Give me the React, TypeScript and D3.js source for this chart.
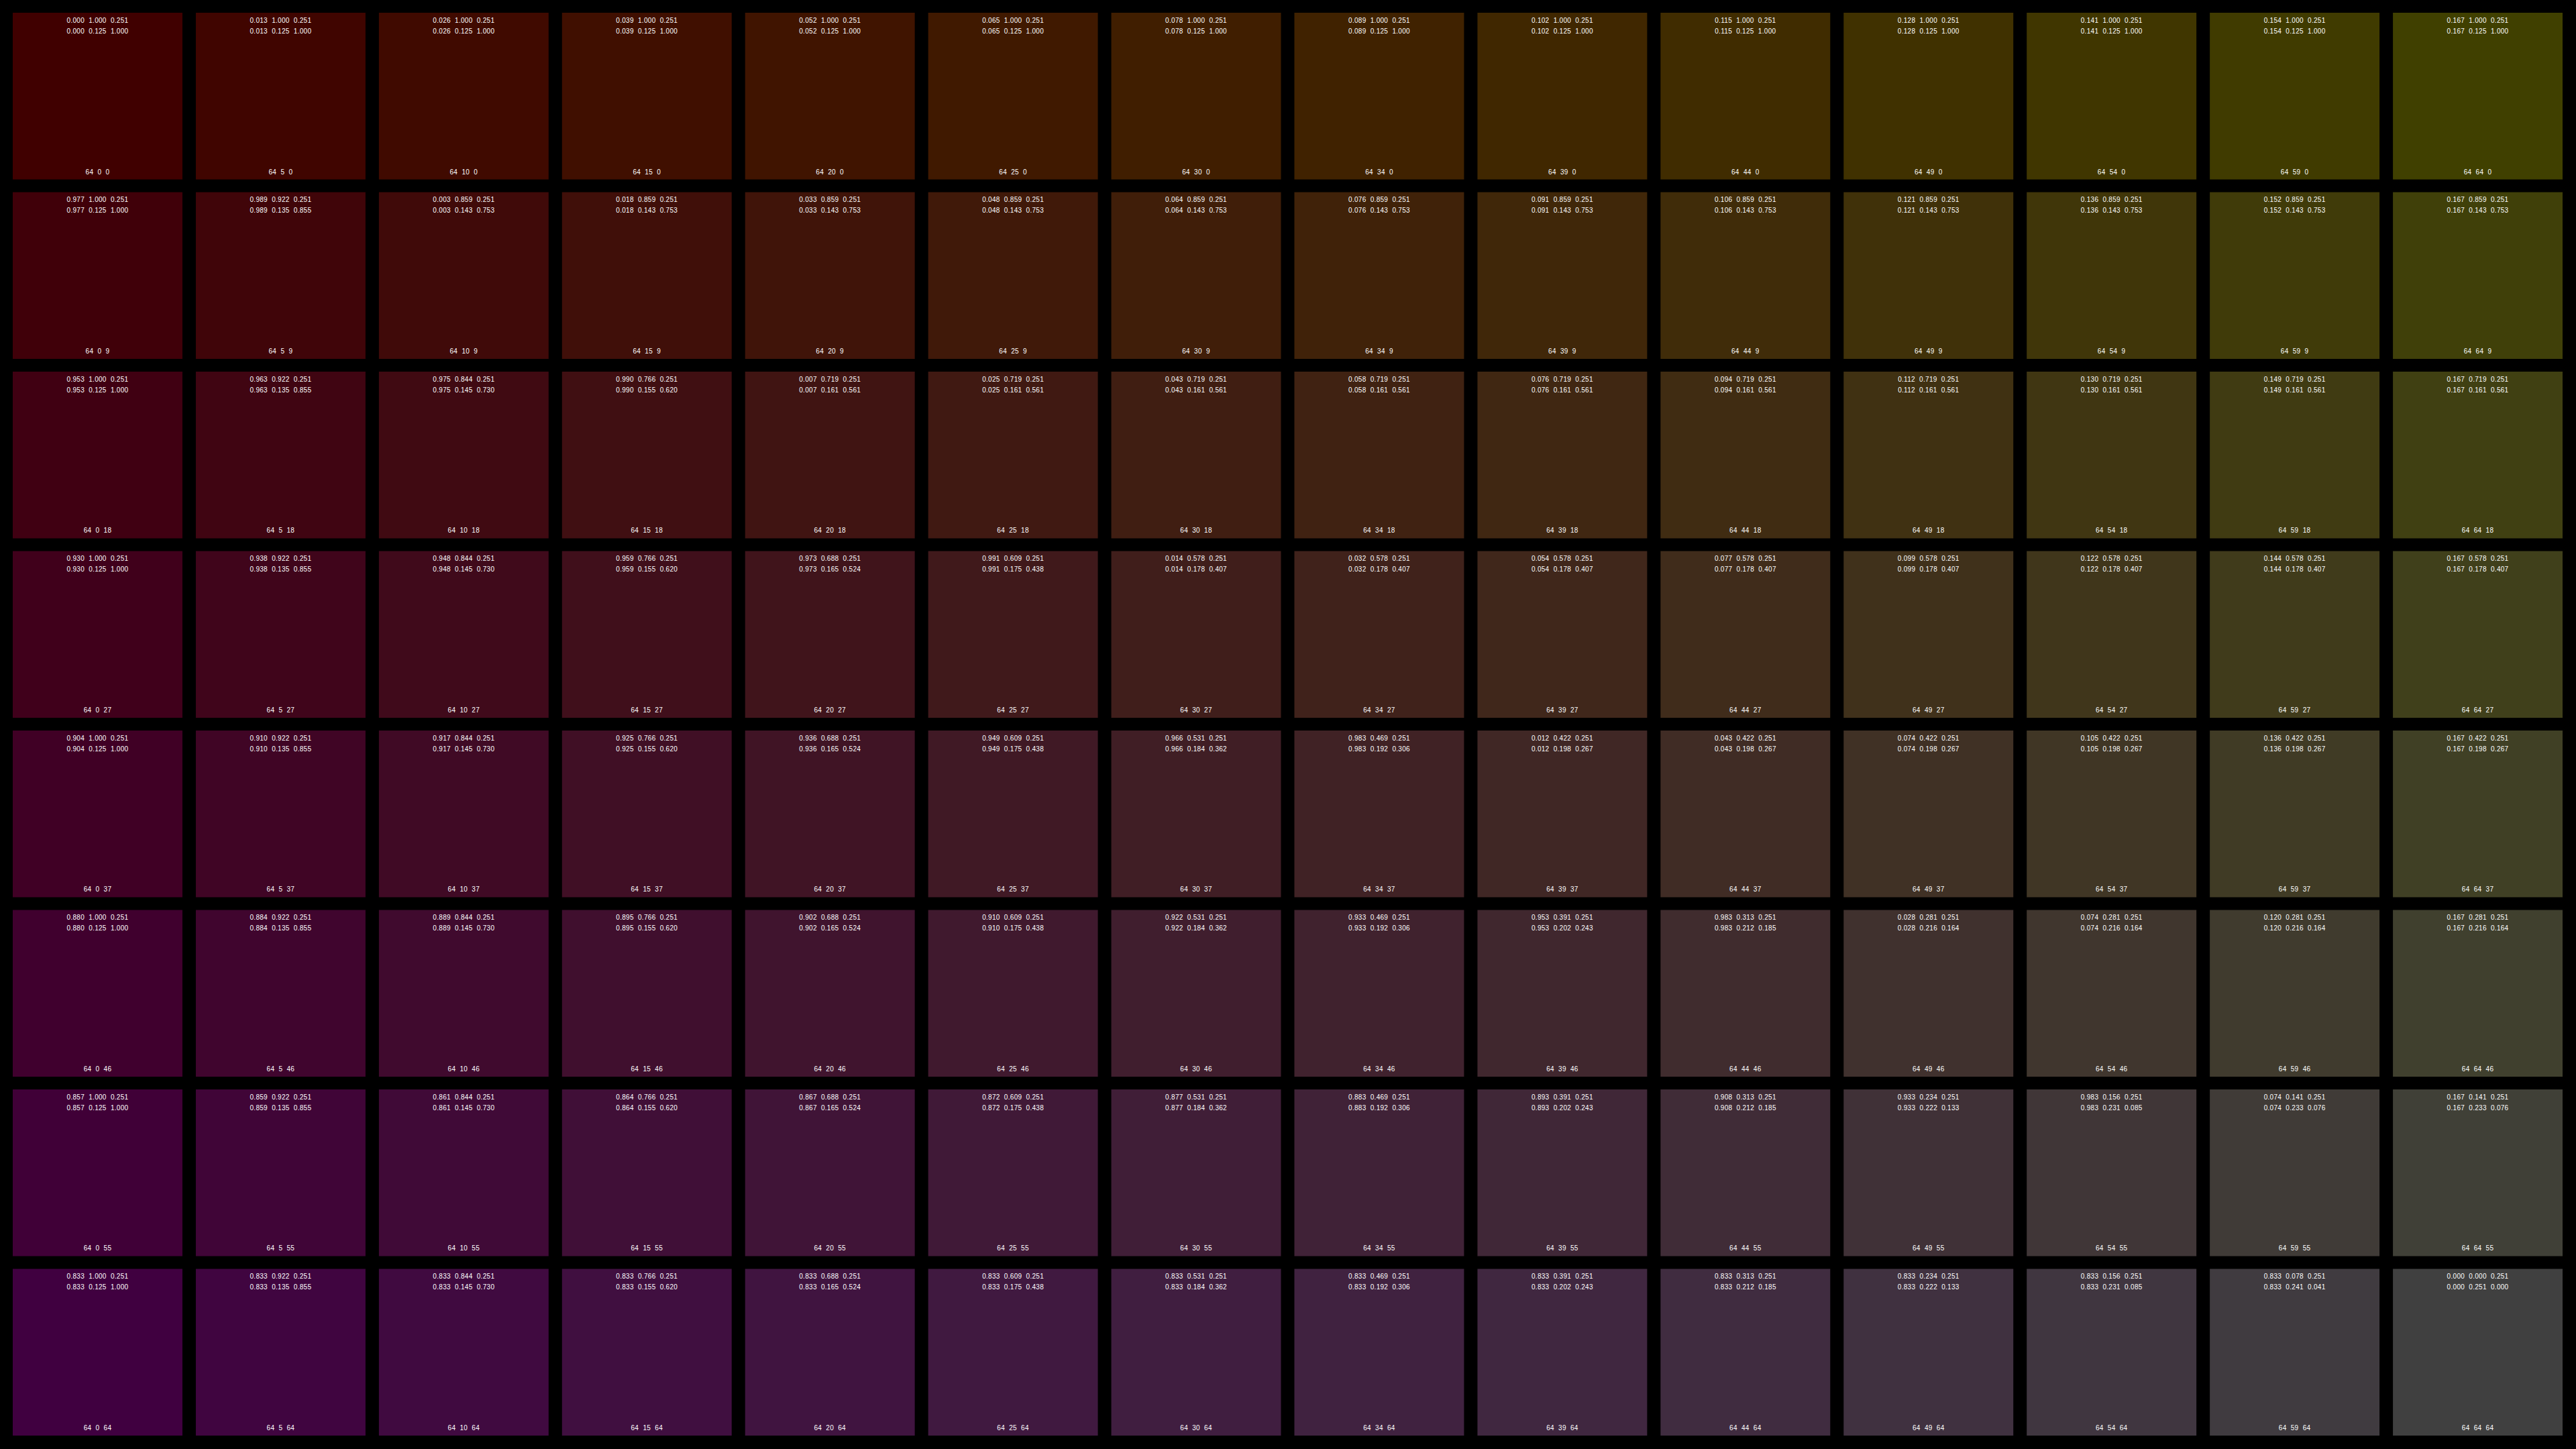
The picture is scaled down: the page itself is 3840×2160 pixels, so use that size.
import React, { useEffect, useRef } from 'react'
import { select, scaleBand } from 'd3'

// swatch grid: red fixed, green steps across, blue steps down
const RED = 64
const greenLevels = [0, 5, 10, 15, 20, 25, 30, 34, 39, 44, 49, 54, 59, 64]
const blueLevels = [0, 9, 18, 27, 37, 46, 55, 64]

const WIDTH = 3840
const HEIGHT = 2160

type Cell = { r: number; g: number; b: number; col: number; row: number }

// same maths as python's colorsys (rgb_to_hsv / rgb_to_hls)
function hueOf(r: number, g: number, b: number) {
  const maxc = Math.max(r, g, b)
  const minc = Math.min(r, g, b)
  if (maxc === minc) return 0
  const rc = (maxc - r) / (maxc - minc)
  const gc = (maxc - g) / (maxc - minc)
  const bc = (maxc - b) / (maxc - minc)
  let h
  if (r === maxc) h = bc - gc
  else if (g === maxc) h = 2.0 + rc - bc
  else h = 4.0 + gc - rc
  h = h / 6.0
  return ((h % 1) + 1) % 1
}

function hsvText(c: Cell) {
  const r = c.r / 255, g = c.g / 255, b = c.b / 255
  const maxc = Math.max(r, g, b)
  const minc = Math.min(r, g, b)
  const s = maxc === 0 ? 0 : (maxc - minc) / maxc
  return [hueOf(r, g, b), s, maxc].map(v => v.toFixed(3)).join('  ')
}

function hlsText(c: Cell) {
  const r = c.r / 255, g = c.g / 255, b = c.b / 255
  const maxc = Math.max(r, g, b)
  const minc = Math.min(r, g, b)
  const l = (maxc + minc) / 2
  let s = 0
  if (maxc !== minc) {
    s = l <= 0.5 ? (maxc - minc) / (maxc + minc) : (maxc - minc) / (2.0 - maxc - minc)
  }
  return [hueOf(r, g, b), l, s].map(v => v.toFixed(3)).join('  ')
}

export default function App() {
  const container = useRef<SVGSVGElement | null>(null)

  useEffect(() => {
    document.body.style.margin = '0'
    document.body.style.background = '#000'

    let cells: Cell[] = []
    blueLevels.forEach((b, row) => {
      greenLevels.forEach((g, col) => {
        cells.push({ r: RED, g, b, col, row })
      })
    })

    let x = scaleBand<number>()
      .domain(greenLevels.map((d, i) => i))
      .range([19, 3820])
      .paddingInner(0.0733)
      .paddingOuter(0)

    let y = scaleBand<number>()
      .domain(blueLevels.map((d, i) => i))
      .range([19, 2140])
      .paddingInner(0.071)
      .paddingOuter(0)

    let svg = select(container.current)
    svg.selectAll('rect.bg').data([0]).join('rect')
      .attr('class', 'bg')
      .attr('width', WIDTH)
      .attr('height', HEIGHT)
      .attr('fill', '#000')

    let g = svg.selectAll<SVGGElement, Cell>('g.cell').data(cells).join('g')
      .attr('class', 'cell')
      .attr('transform', d => `translate(${x(d.col)}, ${y(d.row)})`)

    g.selectAll('rect').data(d => [d]).join('rect')
      .attr('width', x.bandwidth())
      .attr('height', y.bandwidth())
      .attr('fill', d => `rgb(${d.r},${d.g},${d.b})`)

    let lines = (d: Cell) => [
      { text: hsvText(d), y: 15 },
      { text: hlsText(d), y: 31 },
      { text: `${d.r}  ${d.g}  ${d.b}`, y: y.bandwidth() - 8 }
    ]

    g.selectAll('text').data(d => lines(d)).join('text')
      .text(d => d.text)
      .attr('x', x.bandwidth() / 2)
      .attr('y', d => d.y)
      .attr('text-anchor', 'middle')
      .attr('fill', '#fff')
      .attr('font-size', 10)
      .attr('letter-spacing', 0.3)
      .style('font-family', '"Liberation Sans", Arial, sans-serif')
      .style('white-space', 'pre')
  }, [])

  return (
    <svg
      ref={container}
      width={WIDTH}
      height={HEIGHT}
      style={{ display: 'block' }}
    />
  )
}
